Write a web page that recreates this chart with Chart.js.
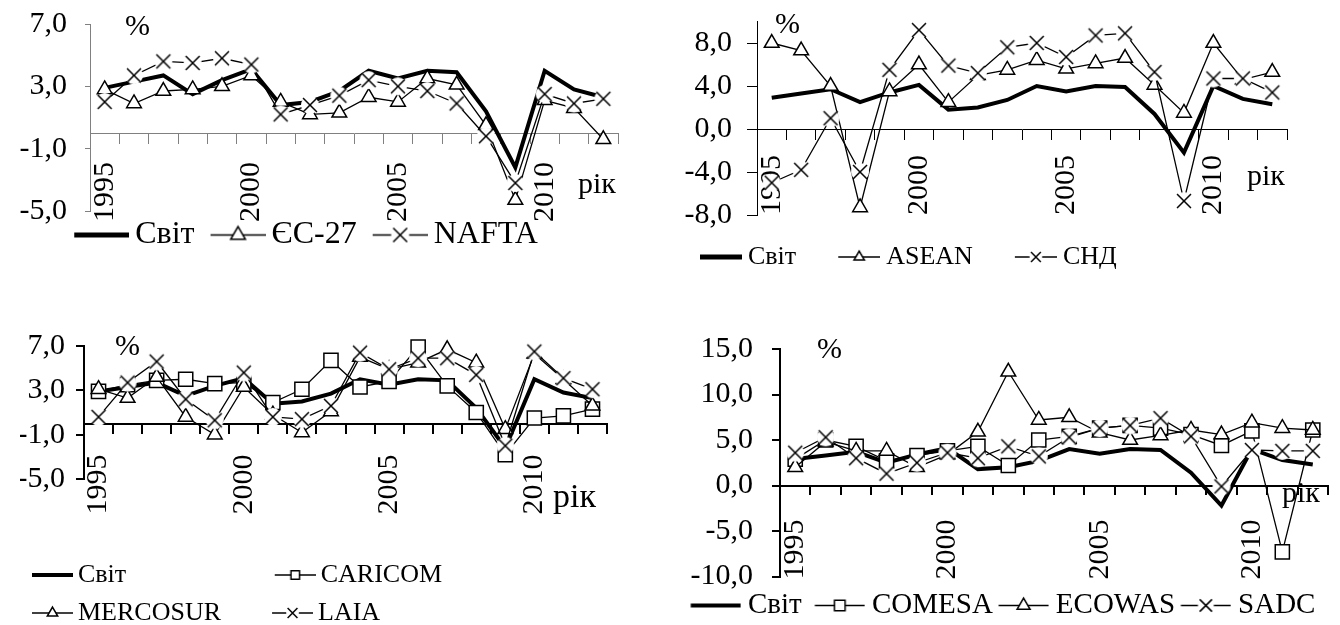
<!DOCTYPE html>
<html>
<head>
<meta charset="utf-8">
<script src="https://cdn.jsdelivr.net/npm/chart.js@4.4.1/dist/chart.umd.min.js"></script>
<style>
  html, body { margin: 0; padding: 0; background: #fff; overflow: hidden; }
  body { width: 1340px; height: 625px; position: relative; }
  canvas { position: absolute; }
</style>
</head>
<body>
<canvas id="c1" style="left:0;top:0" width="670" height="261"></canvas>
<canvas id="c2" style="left:670px;top:0" width="670" height="280"></canvas>
<canvas id="c3" style="left:0;top:320px" width="670" height="316"></canvas>
<canvas id="c4" style="left:670px;top:310px" width="670" height="320"></canvas>
<script>
// роки
const years = ['1995','1996','1997','1998','1999','2000','2001','2002','2003',
               '2004','2005','2006','2007','2008','2009','2010','2011','2012'];

// темпи зростання ВВП, %
const world    = [2.9, 3.3, 3.7, 2.5, 3.4, 4.1, 1.8, 2.0, 2.7, 4.0, 3.5, 4.0, 3.9, 1.4, -2.2, 4.0, 2.8, 2.3];
const eu27     = [2.8, 1.9, 2.7, 2.8, 3.0, 3.7, 2.0, 1.2, 1.3, 2.3, 2.0, 3.5, 3.1, 0.5, -4.3, 2.1, 1.6, -0.4];
const nafta    = [2.0, 3.7, 4.6, 4.5, 4.8, 4.4, 1.2, 1.8, 2.4, 3.4, 3.0, 2.7, 1.9, -0.2, -3.2, 2.5, 1.9, 2.2];
const asean    = [8.0, 7.3, 4.0, -7.3, 3.5, 6.0, 2.5, 5.0, 5.5, 6.4, 5.6, 6.1, 6.6, 4.1, 1.5, 8.0, 4.6, 5.3];
const cis      = [-5.0, -3.8, 1.0, -4.0, 5.5, 9.2, 5.9, 5.2, 7.6, 8.0, 6.7, 8.7, 8.9, 5.3, -6.7, 4.7, 4.7, 3.4];
const caricom  = [2.9, 3.5, 3.9, 4.0, 3.6, 3.7, 1.9, 3.1, 5.7, 3.3, 3.8, 6.9, 3.4, 1.0, -2.8, 0.5, 0.7, 1.3];
const mercosur = [3.1, 2.3, 4.2, 0.6, -1.0, 3.3, 0.8, -0.8, 1.1, 6.0, 4.9, 5.5, 6.7, 5.5, -0.5, 6.3, 4.0, 1.6];
const laia     = [0.6, 3.7, 5.6, 2.2, 0.3, 4.6, 0.6, 0.4, 1.6, 6.4, 4.9, 5.9, 5.9, 4.4, -2.0, 6.5, 4.1, 3.1];
const comesa   = [2.9, 5.0, 4.3, 2.7, 3.3, 3.8, 4.3, 2.2, 5.0, 5.4, 6.3, 6.6, 6.3, 5.6, 4.4, 6.0, -7.3, 6.1];
const ecowas   = [2.0, 4.8, 3.8, 3.8, 2.0, 3.4, 5.9, 12.5, 7.2, 7.5, 5.8, 5.0, 5.5, 6.1, 5.6, 6.9, 6.3, 6.1];
const sadc     = [3.6, 5.3, 3.0, 1.3, 2.5, 3.6, 3.0, 4.3, 3.2, 5.3, 6.3, 6.6, 7.4, 5.4, -0.1, 3.9, 3.8, 3.8];

const FAMILY = "'Liberation Serif', 'Times New Roman', serif";
Chart.defaults.font.family = FAMILY;
Chart.defaults.color = '#000';

const fmt = v => v.toFixed(1).replace('.', ',');

// маркер (трикутник / квадрат / хрестик з білим фоном)
function drawMarker(g, kind, cx, cy, r) {
    g.lineWidth = 1.5;
    g.fillStyle = '#fff';
    g.strokeStyle = '#000';
    g.beginPath();
    if (kind === 'tri') {
        for (let k = 0; k < 3; k++) {
            const a = k * 2 * Math.PI / 3;
            g.lineTo(cx + Math.sin(a) * r, cy - Math.cos(a) * r);
        }
        g.closePath(); g.fill(); g.stroke();
    } else if (kind === 'sq') {
        const s = r * Math.SQRT1_2;
        g.rect(cx - s, cy - s, 2 * s, 2 * s); g.fill(); g.stroke();
    } else {
        g.arc(cx, cy, r * 1.06, 0, 2 * Math.PI); g.fill();
        const s = r * 0.82;
        g.beginPath();
        g.moveTo(cx - s, cy - s); g.lineTo(cx + s, cy + s);
        g.moveTo(cx + s, cy - s); g.lineTo(cx - s, cy + s);
        g.stroke();
    }
}

function crossImage(r) {
    const c = document.createElement('canvas');
    c.width = c.height = 2 * Math.ceil(r * 1.1) + 2;
    drawMarker(c.getContext('2d'), 'x', c.width / 2, c.height / 2, r);
    return c;
}
const xMarker = crossImage(8.5);

// значок легенди: лінія + маркер, зліва прозорий відступ
function legendIcon(kind, sw, lead, r, thick) {
    const c = document.createElement('canvas');
    c.width = Math.round(lead + sw);
    c.height = Math.ceil(2 * r * 1.1 + 4);
    const g = c.getContext('2d');
    const cy = c.height / 2;
    g.strokeStyle = '#000';
    g.lineWidth = kind === 'world' ? thick : 1.3;
    g.beginPath(); g.moveTo(lead, cy); g.lineTo(lead + sw, cy); g.stroke();
    if (kind !== 'world') drawMarker(g, kind, lead + sw / 2, cy, r);
    return c;
}

function padTo(text, font, target) {
    const g = document.createElement('canvas').getContext('2d');
    g.font = font;
    let t = text;
    while (g.measureText(t + ' ').width <= target + 3) t += ' ';
    return t;
}

function buildDataset(s, i, n) {
    const ds = { label: s.label, data: s.data, order: n - i, borderColor: '#000', tension: 0,
                 clip: false, xAxisID: 'x', yAxisID: 'y' };
    if (s.kind === 'world') return Object.assign(ds, { borderWidth: 4, pointRadius: 0 });
    Object.assign(ds, { borderWidth: 1.3, pointBorderColor: '#000', pointBackgroundColor: '#fff', pointBorderWidth: 1.5 });
    if (s.kind === 'tri') Object.assign(ds, { pointStyle: 'triangle', pointRadius: 8.5 });
    if (s.kind === 'sq') Object.assign(ds, { pointStyle: 'rect', pointRadius: 10 });
    if (s.kind === 'x') Object.assign(ds, { pointStyle: xMarker, pointRadius: 9 });
    return ds;
}

// підписи "%" і "рік"
const notesPlugin = {
    id: 'notes',
    afterDraw(chart, args, opts) {
        const ctx = chart.ctx;
        ctx.save();
        ctx.fillStyle = '#000';
        ctx.textAlign = 'left';
        ctx.textBaseline = 'alphabetic';
        (opts.items || []).forEach(n => {
            ctx.font = n.size + 'px ' + FAMILY;
            ctx.fillText(n.text, n.x, n.y);
        });
        ctx.restore();
    }
};

function panel(id, p) {
    const n = p.series.length;
    const L = p.leg;
    const lead = L.f / 2 - L.g;
    const bw = L.sw + L.g - L.f / 2;
    const icons = p.series.map(s => legendIcon(s.kind, L.sw, lead, L.r, L.thick));
    const legFont = L.f + 'px ' + FAMILY;
    const texts = p.series.map((s, i) => {
        let t = s.label + ' '.repeat((L.spaces || [])[i] || 0);
        if (L.colW && i % 2 === 0) t = padTo(t, legFont, L.colW);
        return t;
    });

    const scales = {
        x: {
            type: 'category',
            offset: true,
            position: { y: 0 },
            border: { display: true, color: p.axisColor, width: p.axisW },
            grid: { offset: true, drawOnChartArea: false, drawTicks: true, tickLength: p.xTick,
                    color: p.axisColor, lineWidth: p.axisW },
            ticks: {
                autoSkip: false, minRotation: 90, maxRotation: 90, padding: p.xPad,
                font: { size: 30 }, color: '#000',
                callback: (v, i) => (Number(years[i]) % 5 === 0 ? years[i] : '')
            },
            afterFit: s => { s.paddingLeft = 0; s.paddingRight = 0; }
        },
        y: {
            min: p.yMin, max: p.yMax,
            border: { display: true, color: p.axisColor, width: p.axisW },
            grid: { drawOnChartArea: false, drawTicks: true, tickLength: p.yTick,
                    color: p.axisColor, lineWidth: p.axisW },
            ticks: {
                stepSize: p.yStep, includeBounds: false, autoSkip: false, padding: p.yPad,
                font: { size: 30 }, color: '#000', callback: v => fmt(v)
            },
            afterFit: s => { s.width = p.left - p.pad.left; s.paddingTop = 0; s.paddingBottom = 0; }
        }
    };
    // порожня смуга між графіком і легендою
    if (p.gap) {
        scales.gap = {
            type: 'linear', position: 'bottom', min: 0, max: 1,
            grid: { display: false }, border: { display: false }, ticks: { display: false },
            afterFit: s => { s.height = p.gap; s.paddingLeft = 0; s.paddingRight = 0; }
        };
    }

    new Chart(document.getElementById(id), {
        type: 'line',
        data: { labels: years, datasets: p.series.map((s, i) => buildDataset(s, i, n)) },
        plugins: [notesPlugin],
        options: {
            responsive: false,
            animation: false,
            events: [],
            layout: { padding: p.pad },
            scales,
            plugins: {
                tooltip: { enabled: false },
                notes: { items: p.notes },
                legend: {
                    display: true,
                    position: 'bottom',
                    align: L.align || 'start',
                    title: { display: (L.title || 0) > 0, text: '',
                             padding: { top: Math.max((L.title || 0) - 1, 0), bottom: 0 },
                             font: { size: 1, lineHeight: 1 } },
                    labels: {
                        usePointStyle: true,
                        pointStyleWidth: bw,
                        padding: L.p,
                        color: '#000',
                        font: { size: L.f },
                        generateLabels: () => p.series.map((s, i) => ({
                            text: texts[i], pointStyle: icons[i], fillStyle: '#000', strokeStyle: '#000',
                            fontColor: '#000', lineWidth: 0, hidden: false, datasetIndex: i
                        }))
                    }
                }
            }
        }
    });
}

panel('c1', {
    series: [
        { label: 'Світ', data: world, kind: 'world' },
        { label: 'ЄС-27', data: eu27, kind: 'tri' },
        { label: 'NAFTA', data: nafta, kind: 'x' }
    ],
    pad: { left: 10, right: 52, top: 24, bottom: 0 }, left: 90,
    yMin: -5, yMax: 7, yStep: 4, yTick: 5, yPad: 18, xTick: 10, xPad: 19,
    axisColor: '#808080', axisW: 1,
    leg: { f: 32, g: 6, sw: 55, p: 8, align: 'center', spaces: [1, 1, 2], r: 8.5, thick: 5 },
    notes: [{ text: '%', x: 125, y: 35, size: 30 }, { text: 'рік', x: 578, y: 193, size: 30 }]
});

panel('c2', {
    series: [
        { label: 'Світ', data: world, kind: 'world' },
        { label: 'ASEAN', data: asean, kind: 'tri' },
        { label: 'СНД', data: cis, kind: 'x' }
    ],
    pad: { left: 14, right: 53, top: 21.5, bottom: 0 }, left: 87,
    yMin: -8, yMax: 10, yStep: 4, yTick: 10, yPad: 15, xTick: 10, xPad: 16,
    axisColor: '#000', axisW: 1,
    leg: { f: 26, g: 6, sw: 42, p: 16, title: 13, spaces: [4, 4, 0], r: 6, thick: 5 },
    notes: [{ text: '%', x: 105, y: 33, size: 30 }, { text: 'рік', x: 577, y: 185, size: 30 }]
});

panel('c3', {
    series: [
        { label: 'Світ', data: world, kind: 'world' },
        { label: 'CARICOM', data: caricom, kind: 'sq' },
        { label: 'MERCOSUR', data: mercosur, kind: 'tri' },
        { label: 'LAIA', data: laia, kind: 'x' }
    ],
    pad: { left: 20, right: 63, top: 26, bottom: 0 }, left: 84, gap: 71,
    yMin: -5, yMax: 7, yStep: 4, yTick: 8, yPad: 11, xTick: 9, xPad: 22,
    axisColor: '#000', axisW: 2,
    leg: { f: 26, g: 5, sw: 41, p: 12, colW: 183, r: 6, thick: 4 },
    notes: [{ text: '%', x: 115, y: 35, size: 30 }, { text: 'рік', x: 553, y: 187, size: 34 }]
});

panel('c4', {
    series: [
        { label: 'Світ', data: world, kind: 'world' },
        { label: 'COMESA', data: comesa, kind: 'sq' },
        { label: 'ECOWAS', data: ecowas, kind: 'tri' },
        { label: 'SADC', data: sadc, kind: 'x' }
    ],
    pad: { left: 15, right: 12, top: 39, bottom: 0 }, left: 110,
    yMin: -10, yMax: 15, yStep: 5, yTick: 8, yPad: 19, xTick: 8, xPad: 26,
    axisColor: '#000', axisW: 2,
    leg: { f: 29, g: 7, sw: 50, p: 6, title: 8.5, spaces: [1, 0, 0, 0], r: 7.5, thick: 4 },
    notes: [{ text: '%', x: 147, y: 48, size: 30 }, { text: 'рік', x: 612, y: 192, size: 30 }]
});
</script>
</body>
</html>
